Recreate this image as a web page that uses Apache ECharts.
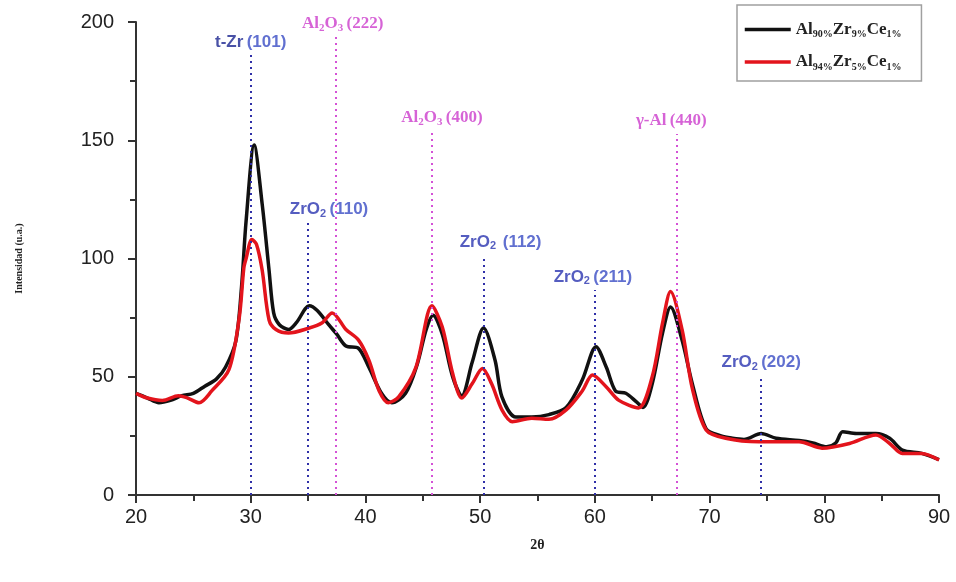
<!DOCTYPE html>
<html>
<head>
<meta charset="utf-8">
<script src="https://cdn.jsdelivr.net/npm/echarts@6/dist/echarts.min.js"></script>
<style>
  html, body { margin: 0; padding: 0; background: #fff; }
  #chart { width: 956px; height: 582px; }
</style>
</head>
<body>
<div id="chart"></div>
<script>
// [2θ, intensity]
const al90Zr9Ce1 = [
  [20, 43], [21, 41], [22, 39], [23, 40], [24, 42], [25, 43], [26, 46], [27, 49], [27.8, 54],
  [28.7, 65], [29.2, 88], [29.6, 116], [30.3, 148], [31, 123], [31.6, 95], [32, 77], [32.5, 72],
  [33.3, 70], [34, 73], [35.1, 80], [35.8, 78], [36.8, 72], [37.5, 68], [38.3, 63], [39.4, 62],
  [40.3, 54], [41.4, 43], [42.3, 39], [43.5, 43], [44.5, 55], [45.3, 70], [45.9, 76], [46.7, 68],
  [47.6, 50], [48.4, 42], [49.3, 56], [50.3, 70.6], [51.3, 57], [51.9, 41.5], [53.1, 33], [54.5, 33],
  [56, 34], [57.5, 37], [58.9, 48.6], [60.1, 62.7], [61, 54], [61.8, 44], [62.7, 43], [63.6, 39.5],
  [64.2, 37], [65, 47], [65.9, 68.5], [66.6, 79.5], [67.6, 65.5], [68.5, 47], [69.7, 28], [71, 25],
  [72, 24], [73, 23.5], [74.5, 26], [75.8, 24], [77.8, 23], [79, 22], [80.2, 20.4], [81, 22],
  [81.6, 26.7], [82.8, 26], [84.5, 26], [85.7, 24], [86.8, 19], [88.5, 17.6], [90, 15]
]
const al94Zr5Ce1 = [
  [20, 43], [21, 41], [22.3, 40], [23.7, 42], [24.5, 41], [25.5, 39], [26.6, 44], [28.1, 53],
  [29, 75], [29.4, 96], [29.6, 100], [30.1, 108], [30.5, 106], [31, 95], [31.6, 74], [32.2, 70],
  [33.3, 68.5], [35.1, 70.6], [36.2, 72.7], [37.1, 77], [38.3, 70], [39.4, 65.5], [40.3, 57],
  [41.2, 44], [42, 39], [42.9, 41.5], [44.4, 54], [45.8, 80], [46.7, 71], [47.6, 51.5], [48.4, 41],
  [49.3, 47], [50.2, 53.5], [51, 47], [51.9, 36], [52.8, 31], [54.5, 32.5], [56, 32], [57.5, 36],
  [58.9, 44], [59.8, 50.7], [61, 45.7], [62.1, 40], [63.8, 36.8], [65, 50], [65.9, 72.7], [66.6, 86],
  [67.6, 70], [68.5, 45], [69.7, 27.5], [71.4, 24], [74.3, 22.5], [77.8, 22.5], [79.8, 19.8],
  [82.2, 21.8], [84.5, 25.4], [85.7, 21.8], [86.8, 17.6], [88.5, 17.6], [90, 14.8]
]

// reference peaks (dotted lines)
const peakPos = [30, 37.4, 35, 45.8, 50.3, 60, 67.1, 74.5]
const peakTop = [186, 194, 115.4, 154, 101.5, 86.7, 152.6, 50.7]
const peakPhase = ['zr', 'al', 'zr', 'al', 'zr', 'zr', 'al', 'zr']
const peakLabels = [
  '{t|t-Zr} {p|(101)}',
  '{m|Al}{ms|2}{m|O}{ms|3} {m|(222)}',
  '{z|ZrO}{zs|2} {p|(110)}',
  '{m|Al}{ms|2}{m|O}{ms|3} {m|(400)}',
  '{z|ZrO}{zs|2}  {p|(112)}',
  '{z|ZrO}{zs|2} {p|(211)}',
  '{m|γ-Al} {m|(440)}',
  '{z|ZrO}{zs|2} {p|(202)}'
]
const labelShift = [0, 7, 21, 10, 17, -2, -5, 0]

const xTicks = [20, 90, 10]
const yTicks = [0, 200, 50]

const blueLine = '#2f2fa8'
const pinkLine = '#d452d6'

const labelRich = {
  t: { color: '#1c2690', fontFamily: 'Liberation Sans', fontWeight: 'bold', fontSize: 17, lineHeight: 20 },
  z: { color: '#2a35b0', fontFamily: 'Liberation Sans', fontWeight: 'bold', fontSize: 17, lineHeight: 20 },
  zs: { color: '#2a35b0', fontFamily: 'Liberation Sans', fontWeight: 'bold', fontSize: 11, verticalAlign: 'bottom', lineHeight: 14 },
  p: { color: '#3a4cc4', fontFamily: 'Liberation Sans', fontWeight: 'bold', fontSize: 17, lineHeight: 20 },
  m: { color: '#cc3ccc', fontFamily: 'Liberation Serif', fontWeight: 'bold', fontSize: 17, lineHeight: 20 },
  ms: { color: '#cc3ccc', fontFamily: 'Liberation Serif', fontWeight: 'bold', fontSize: 11, verticalAlign: 'bottom', lineHeight: 14 }
}

const chart = echarts.init(document.getElementById('chart'))

const markLines = peakPos.map((x, i) => [
  { coord: [x, 0], lineStyle: { color: peakPhase[i] === 'zr' ? blueLine : pinkLine } },
  { coord: [x, peakTop[i]] }
])

const labelPoints = peakPos.map((x, i) => ({
  value: [x, peakTop[i]],
  label: { formatter: peakLabels[i], offset: [labelShift[i], 0] }
}))

chart.setOption({
  animation: false,
  backgroundColor: '#fff',
  grid: { left: 136, right: 17, top: 22, bottom: 87 },
  legend: {
    left: 737,
    top: 5,
    orient: 'vertical',
    itemWidth: 46,
    itemHeight: 14,
    itemGap: 14,
    padding: [16, 20, 9, 6],
    borderColor: '#a0a0a0',
    borderWidth: 1.5,
    itemStyle: { opacity: 0 },
    lineStyle: { width: 3.5 },
    data: ['Al90Zr9Ce1', 'Al94Zr5Ce1'],
    formatter: name => name === 'Al90Zr9Ce1'
      ? '{a|Al}{s|90%}{a|Zr}{s|9%}{a|Ce}{s|1%}'
      : '{a|Al}{s|94%}{a|Zr}{s|5%}{a|Ce}{s|1%}',
    textStyle: {
      rich: {
        a: { fontFamily: 'Liberation Serif', fontWeight: 'bold', fontSize: 17, color: '#222', lineHeight: 20 },
        s: { fontFamily: 'Liberation Serif', fontWeight: 'bold', fontSize: 10, color: '#222', verticalAlign: 'bottom', lineHeight: 13 }
      }
    }
  },
  xAxis: {
    type: 'value',
    min: xTicks[0],
    max: xTicks[1],
    interval: xTicks[2],
    name: '2θ',
    nameLocation: 'middle',
    nameGap: 43,
    nameTextStyle: { fontFamily: 'Liberation Serif', fontWeight: 'bold', fontSize: 14, color: '#222' },
    splitLine: { show: false },
    axisLine: { lineStyle: { color: '#333', width: 2 } },
    axisTick: { length: 8, lineStyle: { width: 2, color: '#333' } },
    minorTick: { show: true, splitNumber: 2, length: 6, lineStyle: { width: 2, color: '#333' } },
    axisLabel: { fontFamily: 'Liberation Sans', fontSize: 20, color: '#222', margin: 12 }
  },
  yAxis: {
    type: 'value',
    min: yTicks[0],
    max: yTicks[1],
    interval: yTicks[2],
    name: 'Intensidad (u.a.)',
    nameLocation: 'middle',
    nameGap: 112,
    nameTextStyle: { fontFamily: 'Liberation Serif', fontWeight: 'bold', fontSize: 10, color: '#222' },
    splitLine: { show: false },
    axisLine: { show: true, lineStyle: { color: '#333', width: 2 } },
    axisTick: { length: 8, lineStyle: { width: 2, color: '#333' } },
    minorTick: { show: true, splitNumber: 2, length: 6, lineStyle: { width: 2, color: '#333' } },
    axisLabel: { fontFamily: 'Liberation Sans', fontSize: 20, color: '#222', margin: 22 }
  },
  series: [
    {
      name: 'peaks',
      type: 'scatter',
      symbolSize: 0,
      z: 1,
      data: labelPoints,
      label: { show: true, position: 'top', distance: 3, rich: labelRich },
      markLine: {
        silent: true,
        symbol: 'none',
        label: { show: false },
        lineStyle: { type: [2, 4], width: 2 },
        data: markLines
      }
    },
    {
      name: 'Al90Zr9Ce1',
      type: 'line',
      z: 3,
      data: al90Zr9Ce1,
      smooth: 0.3,
      symbol: 'none',
      lineStyle: { color: '#111', width: 3.5 },
      itemStyle: { color: '#111' }
    },
    {
      name: 'Al94Zr5Ce1',
      type: 'line',
      z: 4,
      data: al94Zr5Ce1,
      smooth: 0.3,
      symbol: 'none',
      lineStyle: { color: '#e3141c', width: 3.5 },
      itemStyle: { color: '#e3141c' }
    }
  ]
})
</script>
</body>
</html>
